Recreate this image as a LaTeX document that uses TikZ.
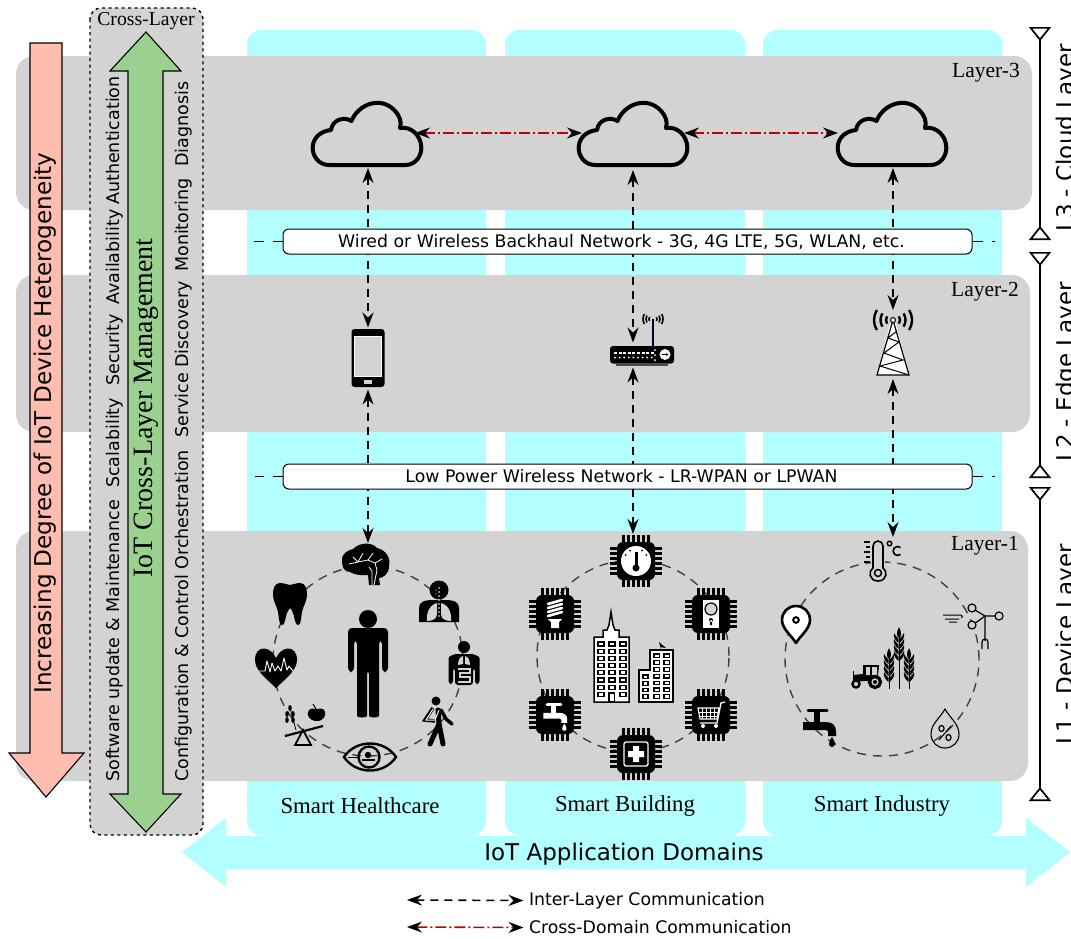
\documentclass[tikz,border=0pt]{standalone}
\usepackage{fontspec}
\setmainfont{DejaVu Sans}
\newfontfamily\serifF{Liberation Serif}
\usetikzlibrary{arrows.meta,calc}
\definecolor{layergray}{HTML}{D3D3D3}
\definecolor{domaincyan}{HTML}{B3FFFF}
\definecolor{heterored}{HTML}{FFBDB0}
\definecolor{crossgreen}{HTML}{9BD18F}
\definecolor{crossred}{HTML}{C00000}
\definecolor{ringgray}{HTML}{404040}
\newcommand{\fsz}[1]{\fontsize{#1}{#1}\selectfont}
\tikzset{
  column/.style={fill=domaincyan,draw=none,rounded corners=14},
  layerbox/.style={fill=layergray,draw=none,rounded corners=18},
  anchorbox/.style={draw=none,inner sep=0,outer sep=0},
  interlink/.style={draw=black,line width=1.6,dash pattern=on 8 off 6,{Stealth[black,length=15,width=11,inset=5]}-{Stealth[black,length=15,width=11,inset=5]}},
  crosslink/.style={draw=crossred,line width=1.6,dash pattern=on 11 off 3 on 2 off 3,{Stealth[black,length=15,width=11,inset=5]}-{Stealth[black,length=15,width=11,inset=5]}},
  sidedash/.style={draw=black,line width=1.2,dash pattern=on 10 off 9},
  netbox/.style={draw=black,fill=white,line width=1,rounded corners=6,minimum width=689,minimum height=25,inner sep=0,font=\fsz{17.3}},
  ring/.style={draw=ringgray,line width=1.4,dash pattern=on 9 off 7,circle,inner sep=0},
  layerlabel/.style={font=\serifF\fsz{21.5},inner sep=0},
  sidetext/.style={rotate=90,font=\fsz{17.5},inner sep=0,anchor=base west},
  levelbar/.style={draw=black,line width=1.7,{Triangle[reversed,open,length=14,width=22,line width=1.7]}-{Triangle[reversed,open,length=14,width=22,line width=1.7]}},
  leveltext/.style={rotate=90,font=\fsz{23},inner sep=0,anchor=base west},
  domainlabel/.style={font=\serifF\fsz{22.8},inner sep=0},
  legendtext/.style={font=\fsz{17.3},inner sep=0,outer xsep=5.5,anchor=west},
}
% ---------- icon macros ----------
\newcommand{\cloudicon}{%
  \draw[line width=4,black,line join=round,xscale=.97] (-39,30) .. controls (-50,30) and (-56,21) .. (-56,13)
    .. controls (-56,3) and (-48,-4) .. (-37,-5) .. controls (-36,-15) and (-24,-19) .. (-16,-14)
    .. controls (-9,-31) and (14,-39) .. (28,-25) .. controls (34,-19) and (36,-13) .. (34,-7)
    .. controls (46,-9) and (56,1) .. (56,13) .. controls (56,22) and (49,30) .. (40,30) -- cycle;}
\newcommand{\chipicon}{%
  \foreach \p in {-12.5,-7.5,-2.5,2.5,7.5,12.5}{
    \draw[black,line width=3] (\p,-26) -- (\p,26);
    \draw[black,line width=3] (-26,\p) -- (26,\p);}
  \fill[black,rounded corners=6] (-19,-19) rectangle (19,19);}
\newcommand{\tapicon}[1]{%
  \fill[#1] (-14,-3) -- (8,-3) .. controls (15,-3) and (19,0) .. (19,6) -- (19,11) -- (11,11) -- (11,7) .. controls (11,6) .. (9,5) -- (-14,5) -- cycle;
  \fill[#1] (-3,-14) rectangle (3,-3);
  \draw[#1,line width=3,line cap=round] (-9,-15) -- (10,-15);
  \fill[#1] (15,12) .. controls (13,15) and (12,17) .. (12,19) arc[start angle=180,end angle=0,radius=3] .. controls (18,17) and (17,15) .. (15,12) -- cycle;}
\newcommand{\wheat}[1]{% stalk height
  \draw[black,line width=.8] (0,0) -- (0,-#1);
  \foreach \k in {0,1,2,3}{
    \fill[black] (.3,{-#1+5+\k*6}) .. controls (2,{-#1+2+\k*6}) and (5,{-#1+1+\k*6}) .. (5,{-#1-1+\k*6}) .. controls (6,{-#1+4+\k*6}) and (3,{-#1+7+\k*6}) .. (.3,{-#1+9+\k*6}) -- cycle;
    \fill[black] (-.3,{-#1+5+\k*6}) .. controls (-2,{-#1+2+\k*6}) and (-5,{-#1+1+\k*6}) .. (-5,{-#1-1+\k*6}) .. controls (-6,{-#1+4+\k*6}) and (-3,{-#1+7+\k*6}) .. (-.3,{-#1+9+\k*6}) -- cycle;}
  \fill[black] (0,{-#1-7}) .. controls (-3,{-#1-1}) and (-2.5,{-#1+2}) .. (0,{-#1+4}) .. controls (2.5,{-#1+2}) and (3,{-#1-1}) .. (0,{-#1-7}) -- cycle;}
\begin{document}
\begin{tikzpicture}[x=1pt,y=-1pt]
\useasboundingbox (0,0) rectangle (1071,938);
\clip (0,0) rectangle (1071,938);
% columns
\fill[column] (247,30) rectangle (486,835);
\fill[column] (505,30) rectangle (745,835);
\fill[column] (763,30) rectangle (1002,835);
% layers
\fill[layerbox] (16,56) rectangle (1032,210);
\fill[layerbox] (16,275) rectangle (1030,432);
\fill[layerbox] (16,531) rectangle (1028,781);
\node[layerlabel] (lay3) at (986,73) {Layer-3};
\node[layerlabel] (lay2) at (985,292) {Layer-2};
\node[layerlabel] (lay1) at (985,546) {Layer-1};
% application-domain arrow
\fill[domaincyan] (182,852) -- (226,818) -- (226,836) -- (1026,836) -- (1026,818) -- (1070,852) -- (1026,887) -- (1026,869) -- (226,869) -- (226,887) -- cycle;
\node[font=\fsz{23},inner sep=0] (domains) at (624,854) {IoT Application Domains};
\node[domainlabel] (shc) at (360,806) {Smart Healthcare};
\node[domainlabel] (sbd) at (625,806) {Smart Building};
\node[domainlabel] (sid) at (882,806) {Smart Industry};
% heterogeneity arrow
\draw[fill=heterored,draw=black,line width=1.1] (30,43) -- (62,43) -- (62,753) -- (84,753) -- (46,797) -- (9,753) -- (30,753) -- cycle;
\node[rotate=90,font=\fsz{23.1},inner sep=0] (hetero) at (45,423) {Increasing Degree of IoT Device Heterogeneity};
% cross-layer panel
\draw[fill=layergray,draw=black,line width=1.4,dash pattern=on 3 off 3.5,rounded corners=11] (90,8) rectangle (203,835);
\node[font=\serifF\fsz{19.7},inner sep=0] (crosstitle) at (146,21) {Cross-Layer};
\draw[fill=crossgreen,draw=black,line width=1.1] (146,32) -- (181,71) -- (163,71) -- (163,794) -- (181,794) -- (146,832) -- (110,794) -- (128,794) -- (128,71) -- (110,71) -- cycle;
\node[rotate=90,font=\serifF\fsz{28},inner sep=0] (crossname) at (146,408) {IoT Cross-Layer Management};
\node[sidetext] (t1) at (119,782) {Software update \& Maintenance};
\node[sidetext] (t2) at (119,488) {Scalability};
\node[sidetext] (t3) at (119,386) {Security};
\node[sidetext] (t4) at (119,305) {Availability};
\node[sidetext] (t5) at (119,205) {Authentication};
\node[sidetext] (r1) at (188,782) {Configuration \& Control Orchestration};
\node[sidetext] (r2) at (188,438) {Service Discovery};
\node[sidetext] (r3) at (188,272) {Monitoring};
\node[sidetext] (r4) at (188,167) {Diagnosis};
% level bars
\coordinate (l3t) at (1040,27); \coordinate (l3b) at (1040,240);
\coordinate (l2t) at (1040,252); \coordinate (l2b) at (1040,478);
\coordinate (l1t) at (1040,487); \coordinate (l1b) at (1040,801);
\draw[levelbar] (l3t) -- (l3b);
\draw[levelbar] (l2t) -- (l2b);
\draw[levelbar] (l1t) -- (l1b);
\node[leveltext] (lv3) at (1073,232) {L3 - Cloud Layer};
\node[leveltext] (lv2) at (1073,462) {L2 - Edge Layer};
\node[leveltext] (lv1) at (1073,745) {L1 - Device Layer};
% anchors for the connected icons
\node[anchorbox,minimum width=94,minimum height=70] (cloudA) at (368,133) {};
\node[anchorbox,minimum width=102,minimum height=74] (cloudB) at (633,133) {};
\node[anchorbox,minimum width=110,minimum height=70] (cloudC) at (893,133) {};
\node[anchorbox,minimum width=33,minimum height=62] (phone) at (368,358.5) {};
\node[anchorbox,minimum width=64,minimum height=25] (router) at (633,355) {};
\node[anchorbox,minimum width=32,minimum height=69] (tower) at (893,344.5) {};
\node[anchorbox,minimum width=48,minimum height=44] (brain) at (368,565) {};
\node[anchorbox,minimum width=52,minimum height=54] (dial) at (633,561) {};
\node[anchorbox,minimum width=30,minimum height=66] (thermo) at (893,570) {};
% rings
\node[ring,minimum size=190] (ringA) at (368,661) {};
\node[ring,minimum size=192] (ringB) at (633,656) {};
\node[ring,minimum size=194] (ringC) at (882,659) {};
% network boxes
\coordinate (wl) at (250,241.5); \coordinate (wr) at (995,241.5);
\coordinate (ll) at (255,476.5); \coordinate (lr) at (995,476.5);
% connectors
\draw[crosslink] (cloudA.east) -- (cloudB.west);
\draw[crosslink] (cloudB.east) -- (cloudC.west);
\draw[interlink] (cloudA.south) -- (phone.north);
\draw[interlink] (phone.south) -- (brain.north);
\draw[interlink] (cloudB.south) -- (router.north);
\draw[interlink] (router.south) -- (dial.north);
\draw[interlink] (cloudC.south) -- (tower.north);
\draw[interlink] (tower.south) -- (thermo.north);
\node[netbox] (wired) at (627.5,241.5) {Wired or Wireless Backhaul Network - 3G, 4G LTE, 5G, WLAN, etc.\hspace*{12pt}};
\node[netbox] (lowpower) at (627.5,476.5) {Low Power Wireless Network - LR-WPAN or LPWAN\hspace*{12pt}};
\draw[sidedash] (wired.west) -- (wl);
\draw[sidedash] (wired.east) -- (wr);
\draw[sidedash] (lowpower.west) -- (ll);
\draw[sidedash] (lowpower.east) -- (lr);
% clouds
\begin{scope}[shift={(367,135)}]\cloudicon\end{scope}
\begin{scope}[shift={(633,135)}]\cloudicon\end{scope}
\begin{scope}[shift={(892,135)}]\cloudicon\end{scope}
% phone
\begin{scope}[shift={(368,358)}]
  \fill[black,rounded corners=3] (-16.5,-29) rectangle (16.5,29);
  \fill[layergray] (-13.5,-22) rectangle (13.5,18);
  \draw[white,line width=.5] (-13.5,-22) rectangle (13.5,18);
  \fill[layergray] (-4,21.5) rectangle (4,25.5);
\end{scope}
% router
\begin{scope}[shift={(653,319)}]
  \draw[black!85!blue,line width=1.6] (0,0) -- (0,27);
  \foreach \r in {4,7,10}{
    \draw[black,line width=1.6] (-30:\r) arc[start angle=-30,end angle=30,radius=\r];
    \draw[black,line width=1.6] (150:\r) arc[start angle=150,end angle=210,radius=\r];}
\end{scope}
\begin{scope}[shift={(642,355)}]
  \fill[black,rounded corners=3] (-32,-9) rectangle (32,8.5);
  \draw[black!70,line width=1.5] (-26,10) -- (26,10);
  \foreach \k in {0,...,8}{
    \fill[white] ({-28+\k*4.6},-3.5) rectangle ({-25+\k*4.6},-1.5);
    \fill[white] ({-27+\k*4.6},2.5) circle (1);}
  \foreach \yy in {-5,0,5}\fill[white] (13,\yy) circle (1);
  \fill[white] (23,-0.5) circle (5.5);
  \draw[black,line width=1,-{Stealth[length=2.5,width=3]}] (19.5,-0.5) -- (26.5,-0.5);
\end{scope}
% tower
\begin{scope}[shift={(893,320)}]
  \fill[white] (-3,4) -- (3,4) -- (16,55) -- (-16,55) -- cycle;
  \draw[black,line width=1.2] (0,0) -- (-16,55) -- (16,55) -- cycle;
  \draw[black,line width=1] (4,11) -- (-5,18) -- (6,22) -- (-9,33) -- (10,40) -- (-13,46) -- (16,55);
  \fill[white,draw=black,line width=1] (0,0) circle (2.5);
  \foreach \r in {7,12.5,19}{
    \draw[black,line width=2.4] (-32:\r) arc[start angle=-32,end angle=32,radius=\r];
    \draw[black,line width=2.4] (148:\r) arc[start angle=148,end angle=212,radius=\r];}
\end{scope}
%% ---- healthcare ring ----
% person
\begin{scope}[shift={(368,662)}]
  \fill[black] (0,-43) circle (9);
  \fill[black,rounded corners=4] (-20,-34) -- (20,-34) -- (20,10) -- (14,10) -- (14,-22) -- (11,-22) -- (11,50) .. controls (11,56) and (1,56) .. (1,50) -- (1,8) -- (-1,8) -- (-1,50) .. controls (-1,56) and (-11,56) .. (-11,50) -- (-11,-22) -- (-14,-22) -- (-14,10) -- (-20,10) -- cycle;
\end{scope}
% brain
\begin{scope}[shift={(365,565)}]
  \fill[black] (-23,-4) .. controls (-24,-12) and (-16,-15) .. (-12,-16) .. controls (-5,-23) and (7,-23) .. (12,-17) .. controls (21,-15) and (26,-7) .. (24,1) .. controls (24,9) and (18,13) .. (14,13) -- (15,20) -- (4,20) -- (3,10) .. controls (-5,11) and (-12,9) .. (-15,7) .. controls (-21,7) and (-23,2) .. (-23,-4) -- cycle;
  \draw[white,line width=.8] (-16,-1) -- (-7,-3) -- (-2,-12) (-7,-3) -- (3,-5) -- (8,-12) (3,-5) -- (10,-2) -- (17,-6) (10,-2) -- (12,5) -- (9,20) (4,2) -- (7,6) -- (7,20) (-12,-8) -- (-7,-3);
\end{scope}
% tooth
\begin{scope}[shift={(290,604)}]
  \fill[black] (-10,-21) .. controls (-5,-21) and (-3,-19) .. (0,-19) .. controls (3,-19) and (5,-21) .. (10,-21) .. controls (15,-21) and (17,-16) .. (17,-10) .. controls (17,-2) and (13,2) .. (12,8) .. controls (11,14) and (11,21) .. (8,21) .. controls (4,21) and (5,8) .. (0,4) .. controls (-5,8) and (-4,21) .. (-8,21) .. controls (-11,21) and (-11,14) .. (-12,8) .. controls (-13,2) and (-17,-2) .. (-17,-10) .. controls (-17,-16) and (-15,-21) .. (-10,-21) -- cycle;
\end{scope}
% heart
\begin{scope}[shift={(276,667)}]
  \fill[black] (0,-9) .. controls (-6,-22) and (-21,-22) .. (-21,-7) .. controls (-21,4) and (-8,13) .. (0,21) .. controls (8,13) and (21,4) .. (21,-7) .. controls (21,-22) and (6,-22) .. (0,-9) -- cycle;
  \draw[white,line width=.9,line join=round] (-17,4) -- (-11,4) -- (-9,-6) -- (-6,5) -- (-4,-4) -- (-1,4) -- (2,-1) -- (5,4) -- (8,-9) -- (11,3) -- (13,-1) -- (17,4);
\end{scope}
% balance
\begin{scope}[shift={(303,724)}]
  \draw[black,line width=1.8,line join=miter] (0,6) -- (-8,21) -- (8,21) -- cycle;
  \draw[black,line width=2.2] (-18,12) -- (20,2);
  \fill[black] (14,-3) .. controls (6,-3) and (4,-9) .. (5,-12) .. controls (7,-17) and (11,-15) .. (13,-15) .. controls (16,-15) and (21,-17) .. (22,-12) .. controls (23,-9) and (21,-3) .. (14,-3) -- cycle;
  \draw[black,line width=1] (13,-15) -- (10,-20);
  \fill[black] (-13,-16) ellipse (1.8 and 3) (-16,-10) ellipse (1.8 and 3) (-10,-10) ellipse (1.8 and 3) (-16,-4) ellipse (1.8 and 3) (-10,-4) ellipse (1.8 and 3);
  \draw[black,line width=.8] (-13,-16) -- (-7,6);
\end{scope}
% eye
\begin{scope}[shift={(370,757)}]
  \draw[black,line width=2.4] (-26,0) .. controls (-14,-18) and (14,-18) .. (26,0) .. controls (14,18) and (-14,18) .. (-26,0) -- cycle;
  \draw[black,line width=2.4] (-1,0) circle (10.5);
  \fill[black] (-2,-2) circle (3.2);
  \draw[black,line width=1.5] (-8,3) -- (5,3);
  \draw[black,line width=.8] (-22,0) -- (-11,0);
\end{scope}
% walker
\begin{scope}[shift={(436,722)}]
  \fill[black] (0,-21) circle (4.5);
  \draw[black,line width=5,line cap=round,line join=round] (2,-12) -- (3,2) -- (-6,22);
  \draw[black,line width=5,line cap=round,line join=round] (3,2) -- (7,22);
  \draw[black,line width=3.5,line cap=round] (5,-12) -- (10,-3) -- (16,2);
  \draw[black,line width=3.5,fill=none] (-3,-14) -- (-11,-2) -- (-1,-1);
  \draw[white,line width=1,fill=none] (-3,-13) -- (-10,-2) -- (-1,-2) -- (3,-12);
\end{scope}
% lungs person
\begin{scope}[shift={(439,600)}]
  \fill[black] (0,-10) circle (9.5);
  \fill[black] (-20,22) -- (-20,8) .. controls (-20,2) and (-15,0) .. (-6,0) -- (6,0) .. controls (15,0) and (20,2) .. (20,8) -- (20,22) -- cycle;
  \fill[layergray] (-2,3) .. controls (-10,5) and (-13,14) .. (-12,21) .. controls (-7,21) and (-2,19) .. (-2,14) -- cycle;
  \fill[layergray] (2,3) .. controls (10,5) and (13,14) .. (12,21) .. controls (7,21) and (2,19) .. (2,14) -- cycle;
  \foreach \yy in {-12,-8,-4,0,4,8,12,16}\fill[white] (0,\yy) circle (.8);
  \foreach \yy in {-10,-6}\fill[white] (-3,\yy) circle (.7);
\end{scope}
% organs person
\begin{scope}[shift={(464,663)}]
  \fill[black] (0,-16) circle (6);
  \fill[black,rounded corners=3] (-15.5,21) -- (-15.5,-2) .. controls (-15.5,-7) and (-9,-9) .. (-4,-9) -- (4,-9) .. controls (9,-9) and (15.5,-7) .. (15.5,-2) -- (15.5,21) -- (11,21) -- (11,5) -- (9,5) -- (9,22) -- (-9,22) -- (-9,5) -- (-11,5) -- (-11,21) -- cycle;
  \fill[layergray] (-1,-7) .. controls (-5,-6) and (-6,-1) .. (-6,2) -- (-1,1) -- cycle;
  \fill[layergray] (1,-7) .. controls (5,-6) and (6,-1) .. (6,2) -- (1,1) -- cycle;
  \draw[layergray,line width=1.2] (-6,6) -- (6,6) -- (6,10) -- (-4,10) -- (-4,14) -- (6,14) -- (6,19) -- (-6,19);
\end{scope}
%% ---- building ring ----
\begin{scope}[shift={(636,561)}]\chipicon
  \fill[white] (0,0) circle (15);
  \fill[black] (-1.5,-9) rectangle (1.5,4);
  \fill[black] (0,7) circle (3.5);
  \foreach \a in {-150,-120,-60,-30}\fill[black] (\a:12) circle (1);
\end{scope}
\begin{scope}[shift={(555,614)}]\chipicon
  \foreach \yy in {-12,-8,-4,0}\draw[white,line width=2.6,line cap=round] (-7,{\yy+2}) -- (7,{\yy-2});
  \fill[white] (-7,5) -- (7,5) -- (4,8) -- (4,14) -- (-4,14) -- (-4,8) -- cycle;
\end{scope}
\begin{scope}[shift={(711,614)}]\chipicon
  \fill[white] (-8,-14) rectangle (8,14);
  \fill[layergray,draw=black,line width=1.2] (0,-5) circle (6);
  \fill[black] (0,6) circle (2) (-1,6) rectangle (1,11);
\end{scope}
\begin{scope}[shift={(555,715)}]\chipicon
  \begin{scope}[scale=.72,shift={(-2,0)}]\tapicon{white}\end{scope}
\end{scope}
\begin{scope}[shift={(711,715)}]\chipicon
  \draw[white,line width=1.1,fill=none] (-13,-7) -- (8,-7) -- (6,4) -- (-11,4) -- cycle;
  \foreach \xx in {-9,-5,-1,3}\draw[white,line width=.8] (\xx,-7) -- (\xx,4);
  \draw[white,line width=.8] (-12,-3) -- (7,-3) (-11,1) -- (6,1);
  \draw[white,line width=1.3,fill=none] (14,-13) -- (10,-12) -- (6,8) -- (-11,8);
  \fill[white] (-8,11) circle (2) (5,11) circle (2);
\end{scope}
\begin{scope}[shift={(636,754)}]\chipicon
  \draw[white,line width=1.3,rounded corners=2] (-12,-12) rectangle (12,12);
  \fill[white] (-3,-8) rectangle (3,8) (-8,-3) rectangle (8,3);
\end{scope}
% buildings
\draw[black,line width=1.5,fill=white,line join=miter] (594,702) -- (594,637) -- (603,637) -- (603,630) -- (607,630) -- (609,625) -- (611,612) -- (613,625) -- (615,630) -- (619,630) -- (619,637) -- (629,637) -- (629,702) -- cycle;
\foreach \c in {0,1,2}\foreach \w in {0,...,7}{\ifnum\c=1\ifnum\w=7\else\draw[black,line width=1.2] ({598+\c*11},{642+\w*7.2}) rectangle ({604+\c*11},{646+\w*7.2});\fi\else\draw[black,line width=1.2] ({598+\c*11},{642+\w*7.2}) rectangle ({604+\c*11},{646+\w*7.2});\fi}
\draw[black,line width=1.2] (609,693) rectangle (614.5,702);
\draw[black,line width=1.5,fill=white] (639,702) -- (639,670) -- (650,670) -- (650,650) -- (673,650) -- (673,702) -- cycle;
\foreach \w in {0,...,6}{\draw[black,line width=1.2] (654,{654+\w*6.8}) rectangle (659.5,{657.5+\w*6.8});\draw[black,line width=1.2] (664,{654+\w*6.8}) rectangle (669.5,{657.5+\w*6.8});}
\foreach \w in {0,...,3}{\draw[black,line width=1.2] (643,{675+\w*6.6}) rectangle (648,{678.5+\w*6.6});}
\fill[black] (659,642) -- (666,648) -- (660,647) -- (661,650) -- cycle;
%% ---- industry ring ----
% thermometer
\begin{scope}[shift={(878,573)}]
  \fill[layergray] (-7,-31) rectangle (7,0);
  \draw[black,line width=1.6] (-5,-5) -- (-5,-27) arc[start angle=180,end angle=360,radius=5] -- (5,-5) .. controls (10,-2) and (9,8) .. (0,8) .. controls (-9,8) and (-10,-2) .. (-5,-5) -- cycle;
  \draw[black,line width=1.5] (0,0) circle (3.5);
  \foreach \yy/\l in {-31/6,-26/4,-21/6,-16/4,-11/6}\draw[black,line width=1.3] (-8,\yy) -- ({-8-\l},\yy);
\end{scope}
\draw[black,line width=1.4] (889.5,543.5) circle (2.3);
\draw[black,line width=1.6] (900.5,547.5) arc[start angle=-50,end angle=-310,radius=4.5];
% pin
\begin{scope}[shift={(796,620)}]
  \draw[black,line width=2.6,fill=white,line join=round] (0,23) .. controls (-4,16) and (-14,9) .. (-14,0) .. controls (-14,-8) and (-8,-14) .. (0,-14) .. controls (8,-14) and (14,-8) .. (14,0) .. controls (14,9) and (4,16) .. (0,23) -- cycle;
  \draw[black,line width=2] (0,0) circle (2.8);
\end{scope}
% anemometer
\begin{scope}[shift={(985,616)}]
  \draw[black,line width=1.2] (0,0) -- (10,0) (0,0) -- (0,25) (0,0) -- (-10,-6) (0,0) -- (-11,8);
  \draw[black,line width=1.2,fill=layergray] (14,0) circle (4) (-13,-8) circle (4) (-13,9) circle (4);
  \draw[black,line width=1.2] (-3,33) -- (-3,26) arc[start angle=180,end angle=360,radius=3] -- (3,33);
  \draw[black,line width=1] (-42,-1) -- (-24,-1) arc[start angle=-90,end angle=90,radius=1.5] (-40,3) -- (-26,3) (-36,6) -- (-28,6);
\end{scope}
% tap
\begin{scope}[shift={(817,725)}]\tapicon{black}\end{scope}
% humidity drop
\begin{scope}[shift={(945,732)}]
  \draw[black,line width=1.1] (0,-23) .. controls (-5,-14) and (-14,-8) .. (-14,2) .. controls (-14,10) and (-8,16) .. (0,16) .. controls (8,16) and (14,10) .. (14,2) .. controls (14,-8) and (5,-14) .. (0,-23) -- cycle;
  \draw[black,line width=1.2] (-3.5,-3.5) ellipse (2.6 and 3) (3.5,5.5) ellipse (2.6 and 3);
  \draw[black,line width=1] (-6,8) -- (6,-6);
\end{scope}
% tractor
\begin{scope}[shift={(868,678)}]
  \fill[black] (-5,-13) -- (11,-13) -- (11,-12) -- (10,-3) -- (9,2) -- (-15,4) -- (-15,-3) -- (-5,-4) -- cycle;
  \fill[layergray] (-2,-11) rectangle (2,-3) (4,-11) rectangle (9,-3);
  \draw[black,line width=1] (-15,-2) -- (-15,-7);
  \draw[black,line width=3.2,fill=layergray] (7,4) circle (5.5);
  \fill[black] (7,4) circle (2);
  \draw[black,line width=2.4,fill=layergray] (-12,6) circle (3.5);
\end{scope}
% wheat
\begin{scope}[shift={(899,689)}]\wheat{55}\end{scope}
\begin{scope}[shift={(889,689)}]\wheat{34}\end{scope}
\begin{scope}[shift={(909,689)}]\wheat{34}\end{scope}
% legend
\coordinate (legAend) at (407,900);
\coordinate (legBend) at (407,927);
\node[legendtext] (legA) at (523.5,900.5) {Inter-Layer Communication};
\node[legendtext] (legB) at (523.5,927.5) {Cross-Domain Communication};
\draw[interlink] (legAend) -- (legA.west);
\draw[crosslink] (legBend) -- (legB.west);
\end{tikzpicture}
\end{document}
